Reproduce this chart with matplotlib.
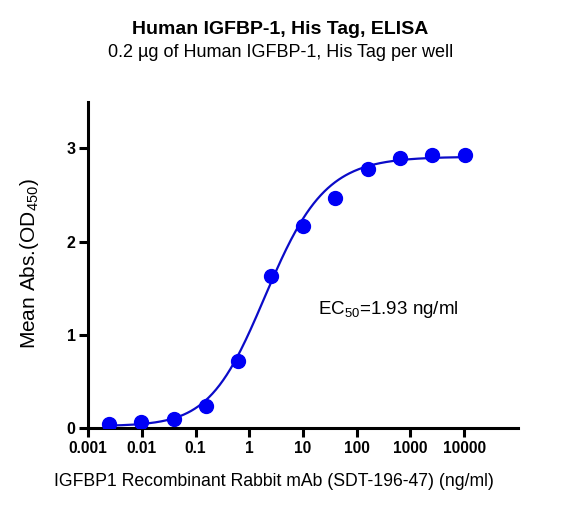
import numpy as np
import matplotlib
matplotlib.use('Agg')
import matplotlib.pyplot as plt
from matplotlib.ticker import FixedLocator, NullLocator

plt.rcParams['font.family'] = ['Liberation Sans', 'DejaVu Sans']
plt.rcParams['mathtext.fontset'] = 'custom'
plt.rcParams['mathtext.rm'] = 'Liberation Sans'

# antibody concentration (ng/ml), 4-fold dilutions
conc = [0.00244, 0.00977, 0.0391, 0.156, 0.625, 2.5, 10, 40, 160, 640, 2560, 10240]
od450 = [0.04, 0.06, 0.10, 0.24, 0.72, 1.63, 2.17, 2.47, 2.78, 2.90, 2.93, 2.93]

# fitted 5PL curve params
bottom = 0.02
top = 2.91
c_mid = 1.35
hill = 0.75
asym = 1.3

x_ticks = [0.001, 0.01, 0.1, 1, 10, 100, 1000, 10000]
x_tick_labels = ['0.001', '0.01', '0.1', '1', '10', '100', '1000', '10000']
y_ticks = [0, 1, 2, 3]


def fit_curve(x):
    return bottom + (top - bottom) / (1 + (c_mid / x) ** hill) ** asym


fig = plt.figure(figsize=(5.73, 5.07), dpi=100)
ax = fig.add_axes([0.1536, 0.1558, 0.7504, 0.6436])

xs = np.logspace(np.log10(conc[0]), np.log10(conc[-1]), 300)
ax.plot(xs, fit_curve(xs), color='#0b0bc8', lw=1.6, zorder=2)
ax.plot(conc, od450, 'o', color='#0000f5', ms=10, zorder=3)

ax.set_xscale('log')
ax.set_xlim(0.001, 100000)
ax.set_ylim(0, 3.5)
ax.xaxis.set_major_locator(FixedLocator(x_ticks))
ax.xaxis.set_minor_locator(NullLocator())
ax.set_xticklabels(x_tick_labels, fontweight='bold', fontsize=11.2)
ax.set_yticks(y_ticks)
ax.set_yticklabels([str(t) for t in y_ticks], fontweight='bold', fontsize=11.5)

for side in ['top', 'right']:
    ax.spines[side].set_visible(False)
for side in ['left', 'bottom']:
    ax.spines[side].set_linewidth(2.2)
ax.tick_params(width=2.2, length=6.5, direction='out', pad=2.5)

fig.text(274 / 573, 1 - 482 / 507, 'IGFBP1 Recombinant Rabbit mAb (SDT-196-47) (ng/ml)',
         ha='center', va='center', fontsize=12.7)
fig.text(30 / 573, 1 - 264 / 507, 'Mean Abs.(OD$_{450}$)', rotation=90,
         ha='center', va='center', fontsize=15)

ax.text(0.535, 0.362, 'EC$_{50}$=1.93 ng/ml', transform=ax.transAxes, fontsize=13.5, va='center')

fig.text(0.489, 0.941, 'Human IGFBP-1, His Tag, ELISA', ha='center', va='center',
         fontsize=14, fontweight='bold')
fig.text(0.489, 0.897, '0.2 µg of Human IGFBP-1, His Tag per well', ha='center', va='center',
         fontsize=13)

fig.savefig('out.png', dpi=100)
